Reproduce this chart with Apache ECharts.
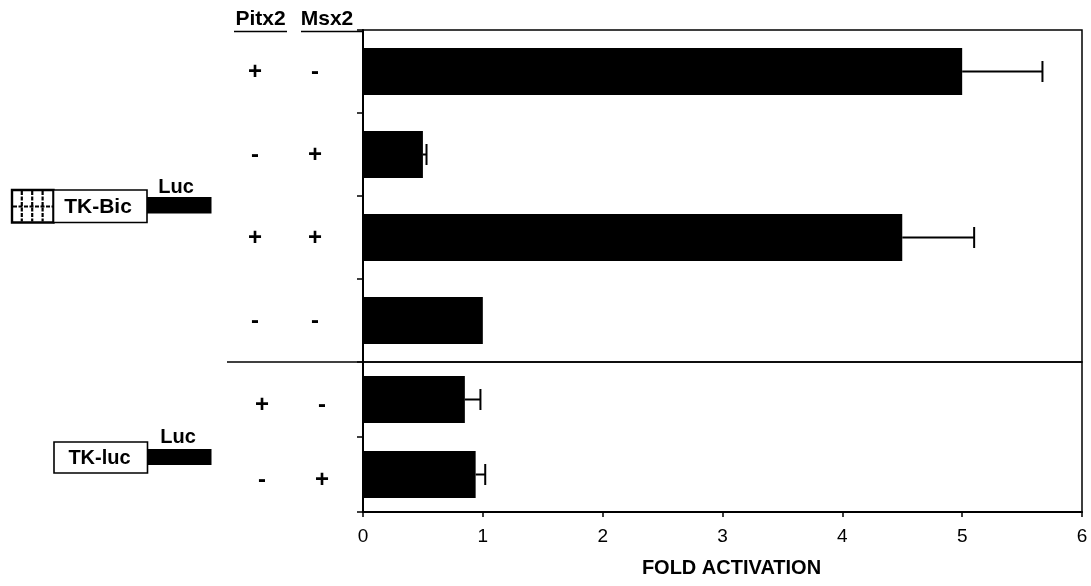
<!DOCTYPE html>
<html>
<head>
<meta charset="utf-8">
<script src="https://cdn.jsdelivr.net/npm/echarts@6/dist/echarts.min.js"></script>
<style>
  html, body { margin: 0; padding: 0; background: #fff; }
  #chart { width: 1091px; height: 586px; }
</style>
</head>
<body>
<div id="chart"></div>
<script>
// TK-Bic reporter rows: Pitx2 / Msx2 co-transfection (first char Pitx2, second Msx2)
const bicRows = ['+-', '-+', '++', '--'];
const bicFold = [5.0, 0.5, 4.5, 1.0];
const bicErrHigh = [5.67, 0.53, 5.10, null];

// TK-luc control reporter rows
const lucRows = ['+-', '-+'];
const lucFold = [0.85, 0.94];
const lucErrHigh = [0.98, 1.02];

// Fold activation axis
const foldMin = 0;
const foldMax = 6;
const foldStep = 1;

const FONT = '"Liberation Sans", Arial, Helvetica, sans-serif';

// layout
const PLOT_LEFT = 363;
const PLOT_RIGHT = 9;
const PLOT_TOP = 30;
const SPLIT_Y = 362;
const PLOT_BOTTOM_Y = 512;

const chart = echarts.init(document.getElementById('chart'));

function errData(fold, hi) {
  const out = [];
  fold.forEach((v, i) => { if (hi[i] != null) out.push([v, hi[i], i]); });
  return out;
}

function renderErr(params, api) {
  const v = api.value(0), hi = api.value(1), c = api.value(2);
  const p0 = api.coord([v, c]);
  const p1 = api.coord([hi, c]);
  const half = 10.5;
  const style = { stroke: '#000', lineWidth: 2 };
  return {
    type: 'group',
    children: [
      { type: 'line', shape: { x1: p0[0], y1: p0[1], x2: p1[0], y2: p1[1] }, style },
      { type: 'line', shape: { x1: p1[0], y1: p1[1] - half, x2: p1[0], y2: p1[1] + half }, style }
    ]
  };
}

function rowLabel(pad) {
  const sign = { align: 'center', fontSize: 24, fontWeight: 'bold', fontFamily: FONT, color: '#000', padding: pad.padding };
  return {
    color: '#000',
    margin: pad.margin,
    formatter: (val) => '{p|' + val.charAt(0) + '}{m|' + val.charAt(1) + '}',
    rich: {
      p: Object.assign({ width: 80 }, sign),
      m: Object.assign({ width: 40 }, sign)
    }
  };
}

const yAxisCommon = {
  type: 'category',
  inverse: true,
  axisLine: { show: true, lineStyle: { color: '#000', width: 2 } },
  axisTick: { show: true, inside: false, length: 6, lineStyle: { color: '#000', width: 1.5 } },
  splitLine: { show: false }
};

const option = {
  animation: false,
  backgroundColor: '#fff',
  grid: [
    { left: PLOT_LEFT, right: PLOT_RIGHT, top: PLOT_TOP, height: SPLIT_Y - PLOT_TOP,
      show: true, borderColor: '#000', borderWidth: 1.5, backgroundColor: 'transparent' },
    { left: PLOT_LEFT, right: PLOT_RIGHT, top: SPLIT_Y, height: PLOT_BOTTOM_Y - SPLIT_Y,
      show: true, borderColor: '#000', borderWidth: 1.5, backgroundColor: 'transparent' }
  ],
  xAxis: [
    { type: 'value', gridIndex: 0, min: foldMin, max: foldMax, interval: foldStep, show: false,
      splitLine: { show: false } },
    { type: 'value', gridIndex: 1, min: foldMin, max: foldMax, interval: foldStep,
      axisLine: { show: true, lineStyle: { color: '#000', width: 2 } },
      axisTick: { show: true, length: 5, lineStyle: { color: '#000', width: 1.5 } },
      splitLine: { show: false },
      axisLabel: { color: '#000', fontSize: 19, fontFamily: FONT, margin: 15 },
      name: 'FOLD ACTIVATION',
      nameLocation: 'middle',
      nameGap: 46,
      nameTextStyle: { color: '#000', fontSize: 20, fontWeight: 'bold', fontFamily: FONT, padding: [0, 0, 0, 18] }
    }
  ],
  yAxis: [
    Object.assign({}, yAxisCommon, { gridIndex: 0, data: bicRows,
      axisLabel: rowLabel({ margin: 28, padding: [2, 0, 0, 0] }) }),
    Object.assign({}, yAxisCommon, { gridIndex: 1, data: lucRows,
      axisLabel: rowLabel({ margin: 21, padding: [12, 0, 0, 0] }) })
  ],
  series: [
    { type: 'bar', xAxisIndex: 0, yAxisIndex: 0, data: bicFold, barWidth: 47,
      itemStyle: { color: '#000' }, z: 2 },
    { type: 'bar', xAxisIndex: 1, yAxisIndex: 1, data: lucFold, barWidth: 47,
      itemStyle: { color: '#000' }, z: 2 },
    { type: 'custom', xAxisIndex: 0, yAxisIndex: 0, renderItem: renderErr,
      encode: { x: [0, 1], y: 2 }, data: errData(bicFold, bicErrHigh), z: 3 },
    { type: 'custom', xAxisIndex: 1, yAxisIndex: 1, renderItem: renderErr,
      encode: { x: [0, 1], y: 2 }, data: errData(lucFold, lucErrHigh), z: 3 }
  ],
  graphic: buildGraphics()
};

function buildGraphics() {
  const txt = (x, y, text, size) => ({
    type: 'text', x, y,
    style: { text, fill: '#000', font: 'bold ' + size + 'px ' + FONT, align: 'center', verticalAlign: 'middle' }
  });
  const line = (x1, y1, x2, y2, w, dash) => ({
    type: 'line', shape: { x1, y1, x2, y2 },
    style: { stroke: '#000', lineWidth: w, lineDash: dash || null }
  });
  const rect = (x, y, w, h, fill, lw) => ({
    type: 'rect', shape: { x, y, width: w, height: h },
    style: { fill, stroke: '#000', lineWidth: lw }
  });

  const g = [];
  // column headers
  g.push(txt(260.5, 19.5, 'Pitx2', 21));
  g.push(line(234, 31.5, 287, 31.5, 1.6));
  g.push(txt(327, 19.5, 'Msx2', 21));
  g.push(line(301, 31.5, PLOT_LEFT, 31.5, 1.6));
  // separator between the two reporter groups, carried into the label area
  g.push(line(227, SPLIT_Y, PLOT_LEFT, SPLIT_Y, 1.6));

  // TK-Bic construct: binding-site block, promoter box, luciferase
  g.push(rect(12, 190, 41.5, 32.5, '#fff', 2.4));
  [21.8, 32.2, 42.6].forEach(x => g.push(line(x, 191, x, 221.5, 2.2, [4, 1.5])));
  g.push(line(13, 206.5, 53, 206.5, 1.8, [4, 1.5]));
  g.push(rect(53.5, 190, 93.5, 32.5, '#fff', 1.6));
  g.push(txt(98, 207.5, 'TK-Bic', 21));
  g.push({ type: 'rect', shape: { x: 147, y: 197, width: 64.5, height: 16.5 }, style: { fill: '#000' } });
  g.push(txt(176, 187, 'Luc', 20));

  // TK-luc construct
  g.push(rect(54, 442, 93.5, 31, '#fff', 1.6));
  g.push(txt(99.5, 458, 'TK-luc', 20));
  g.push({ type: 'rect', shape: { x: 147.5, y: 449, width: 64, height: 16 }, style: { fill: '#000' } });
  g.push(txt(178, 437, 'Luc', 20));
  return g;
}

chart.setOption(option);
</script>
</body>
</html>
